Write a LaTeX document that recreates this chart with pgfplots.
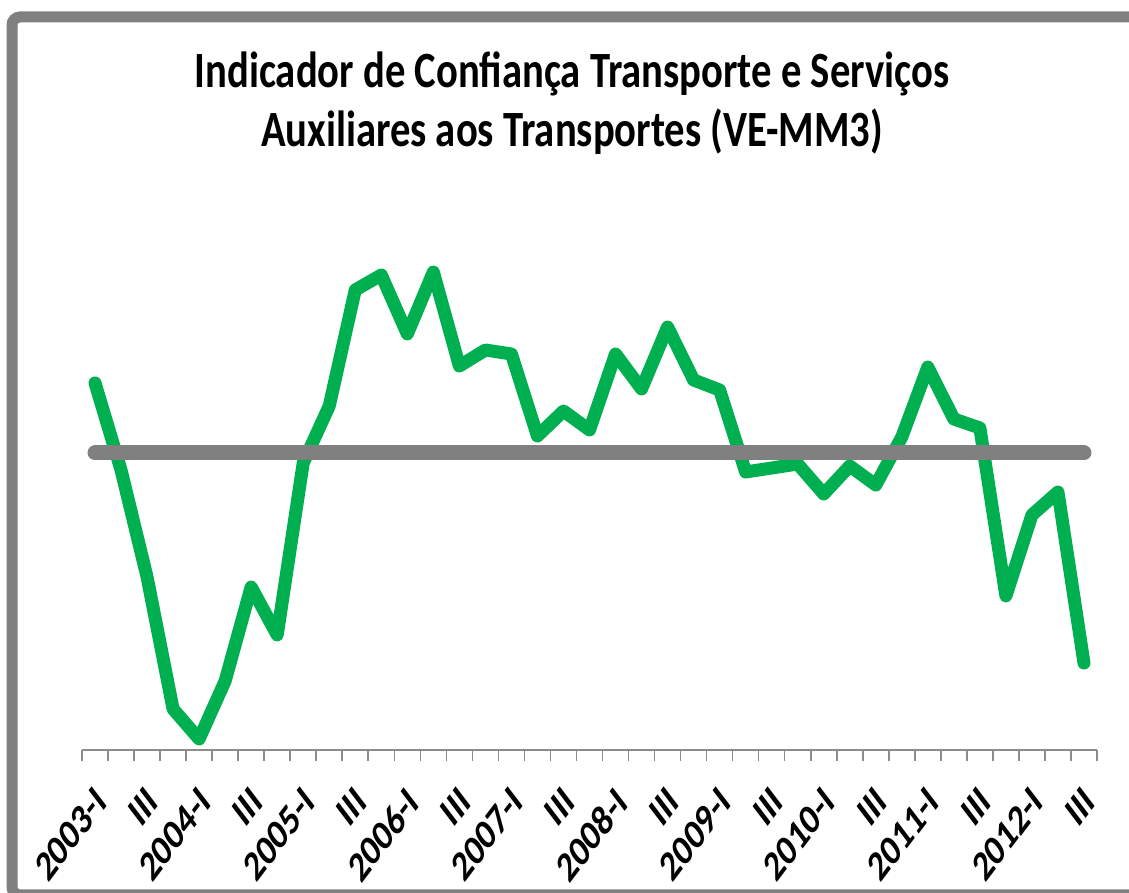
\documentclass[border=0pt]{standalone}
\usepackage{fontspec}
\setmainfont{Carlito}
\newfontfamily\condfont{Carlito}[FakeStretch=0.8]
\usepackage{pgfplots}
\pgfplotsset{compat=1.18}
\definecolor{linegreen}{HTML}{00B050}
\definecolor{framegray}{HTML}{808080}
\definecolor{axgray}{HTML}{8C8C8C}
\begin{document}
\begin{tikzpicture}
\draw[framegray, line width=5.5pt, rounded corners=4pt] (6pt,-1pt) rectangle (575pt,438pt);
\begin{axis}[
  at={(41pt,71.5pt)}, anchor=south west,
  scale only axis, width=507.5pt, height=280pt,
  xmin=-0.5, xmax=38.5, ymin=0, ymax=560,
  axis x line=bottom, axis y line=none,
  x axis line style={-, draw=axgray, line width=0.8pt},
  xtick={0,2,...,38},
  xticklabels={2003-I,III,2004-I,III,2005-I,III,2006-I,III,2007-I,III,2008-I,III,2009-I,III,2010-I,III,2011-I,III,2012-I,III},
  minor xtick={-0.5,0.5,...,38.5},
  xtick align=outside,
  major tick length=0pt,
  minor tick length=5.5pt,
  tick style={draw=axgray, line width=0.8pt},
  xticklabel style={yshift=-17pt, xshift=-1pt, xscale=0.76, rotate=45, anchor=north east, inner sep=0pt, font=\fontsize{21.5}{21.5}\selectfont\bfseries},
  clip=false,
]
\addplot[linegreen, line width=6.5pt, line cap=round, line join=round] coordinates {
(0,367) (1,280) (2,173) (3,41) (4,11) (5,69) (6,163) (7,115) (8,287) (9,344)
(10,460) (11,475) (12,416) (13,478) (14,384) (15,400) (16,396) (17,314) (18,339) (19,320)
(20,396) (21,361) (22,423) (23,370) (24,360) (25,278) (26,282) (27,286) (28,256) (29,284)
(30,265) (31,313) (32,383) (33,331) (34,322) (35,154) (36,235) (37,258) (38,87)
};
\addplot[framegray, line width=7.5pt, line cap=round] coordinates {(0,297) (38,297)};
\end{axis}
\node[anchor=base, font=\condfont\fontsize{25.4}{30}\selectfont\bfseries] at (286pt,402.5pt) {Indicador de Confiança Transporte e Serviços};
\node[anchor=base, font=\condfont\fontsize{25.4}{30}\selectfont\bfseries] at (286pt,373pt) {Auxiliares aos Transportes (VE-MM3)};
\pgfresetboundingbox
\useasboundingbox (0,0) rectangle (564.5pt,446.5pt);
\end{tikzpicture}
\end{document}
